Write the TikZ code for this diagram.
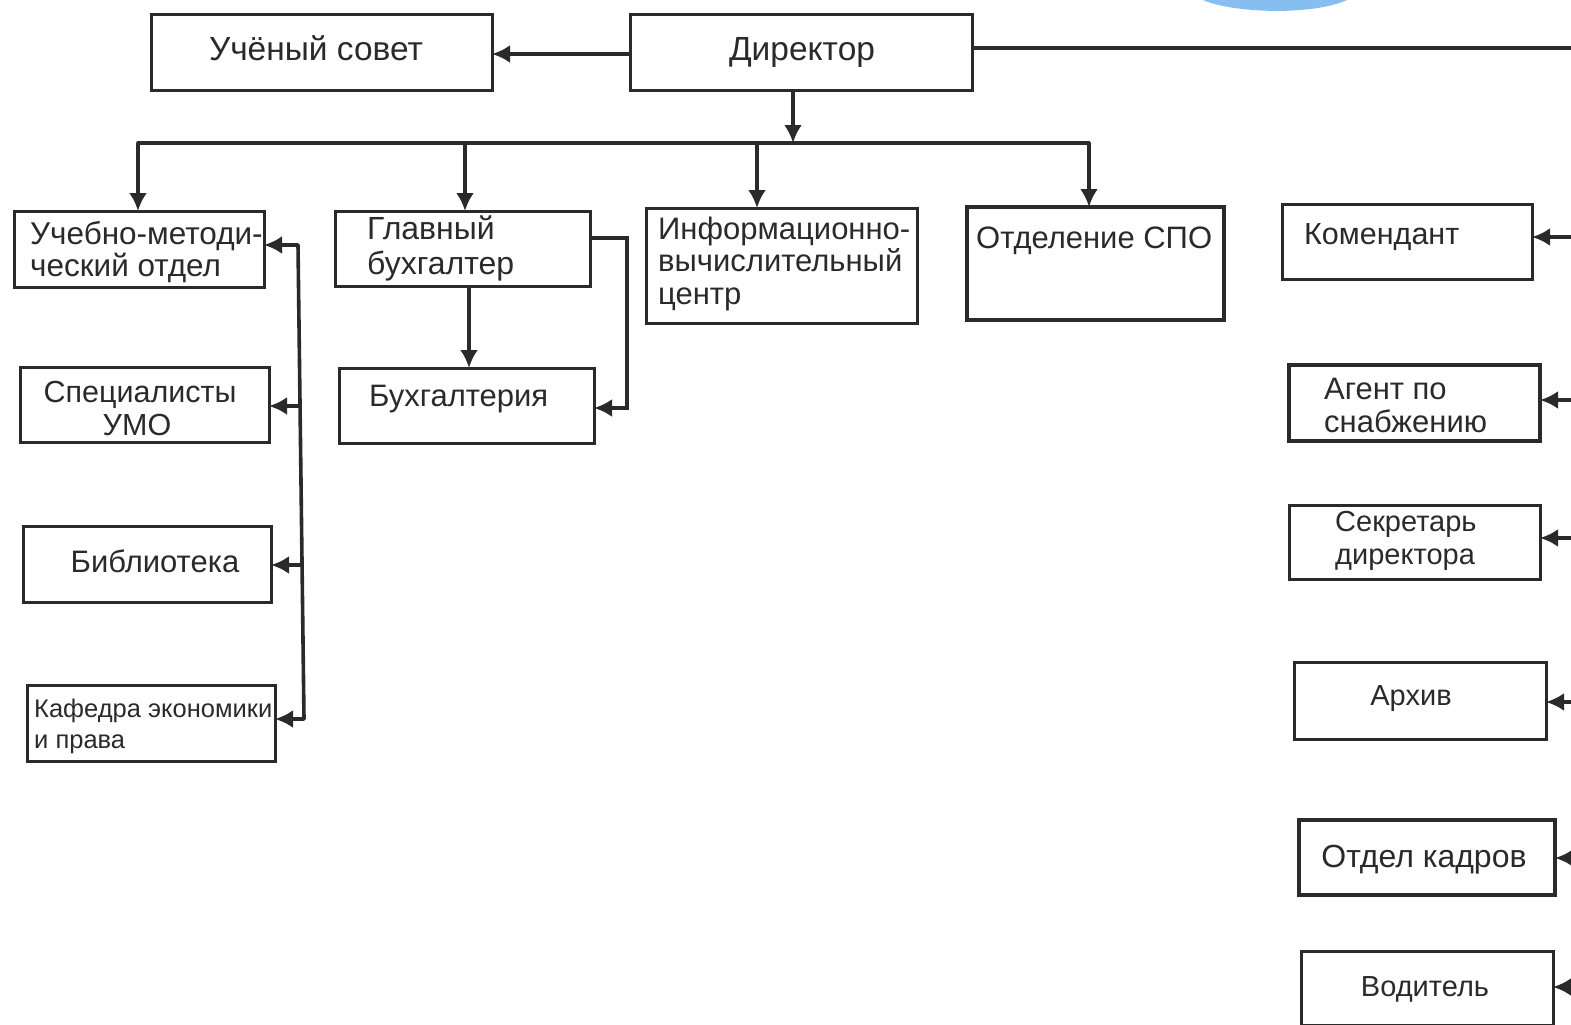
\documentclass[tikz,border=0pt]{standalone}
\usepackage{fontspec}
\setmainfont{Liberation Sans}
\usetikzlibrary{arrows.meta}
\definecolor{ink}{HTML}{2A2A2A}
\definecolor{stamp}{HTML}{86BFEF}
\tikzset{
  x=1pt,y=-1pt,
  bx/.style={draw=ink,line width=3pt,inner sep=0pt,outer sep=0pt,anchor=north west},
  heavy/.style={bx,line width=3.6pt},
  tx/.style={text=ink,inner sep=0pt,anchor=base,font=\fontsize{#1}{#1}\selectfont},
  lft/.style={tx=#1,anchor=base west},
  arr/.style={draw=ink,line width=3.6pt,-{Latex[length=18pt,width=18pt]}},
  ln/.style={draw=ink,line width=3.6pt}
}
\begin{document}
\begin{tikzpicture}
\useasboundingbox (0,0) rectangle (1571,1025);
\clip (0,0) rectangle (1571,1025);
\fill[stamp] (1203,0) .. controls (1232,13) and (1312,16) .. (1347,0) -- cycle;
\node[bx,minimum width=341pt,minimum height=75pt] (uc) at (151,15) {};
\node[bx,minimum width=342pt,minimum height=75pt] (dir) at (630,15) {};
\node[bx,minimum width=250pt,minimum height=76pt] (umo) at (14,211) {};
\node[bx,minimum width=255pt,minimum height=75pt] (gb) at (335,211) {};
\node[bx,minimum width=255pt,minimum height=75pt] (buh) at (339,368) {};
\node[bx,minimum width=271pt,minimum height=115pt] (ivc) at (646,208) {};
\node[heavy,minimum width=257pt,minimum height=113pt] (spo) at (967,207) {};
\node[bx,minimum width=250pt,minimum height=75pt] (kom) at (1282,204) {};
\node[heavy,minimum width=251pt,minimum height=76pt] (agn) at (1289,365) {};
\node[bx,minimum width=251pt,minimum height=74pt] (sec) at (1289,505) {};
\node[bx,minimum width=252pt,minimum height=77pt] (arh) at (1294,662) {};
\node[heavy,minimum width=256pt,minimum height=75pt] (kad) at (1299,820) {};
\node[bx,minimum width=252pt,minimum height=74pt] (vod) at (1301,951) {};
\node[bx,minimum width=249pt,minimum height=75pt] (spc) at (20,367) {};
\node[bx,minimum width=248pt,minimum height=76pt] (bib) at (23,526) {};
\node[bx,minimum width=248pt,minimum height=76pt] (kaf) at (27,685) {};
% texts (baselines)
\node[tx=33.5] (uct) at (316,60) {Учёный совет};
\node[tx=33.5] (dirt) at (802,60) {Директор};
\node[lft=31.5] (umo1) at (30,244) {Учебно-методи-};
\node[lft=31.5] (umo2) at (30,276) {ческий отдел};
\node[lft=32] (gb1) at (367,239) {Главный};
\node[lft=32] (gb2) at (367,274) {бухгалтер};
\node[lft=31] (buht) at (369,406) {Бухгалтерия};
\node[lft=31] (ivc1) at (658,239) {Информационно-};
\node[lft=31] (ivc2) at (658,271) {вычислительный};
\node[lft=31] (ivc3) at (658,304) {центр};
\node[lft=31] (spot) at (976,248) {Отделение СПО};
\node[lft=30.5] (komt) at (1304,244) {Комендант};
\node[lft=31] (agn1) at (1324,399) {Агент по};
\node[lft=31] (agn2) at (1324,432) {снабжению};
\node[lft=29] (sec1) at (1335,531) {Секретарь};
\node[lft=29] (sec2) at (1335,564) {директора};
\node[tx=29] (arht) at (1411,705) {Архив};
\node[tx=32] (kadt) at (1424,867) {Отдел кадров};
\node[tx=29] (vodt) at (1425,996) {Водитель};
\node[tx=30.5] (spc1) at (140,402) {Специалисты};
\node[tx=30.5] (spc2) at (137,435) {УМО};
\node[tx=31] (bibt) at (155,572) {Библиотека};
\node[lft=25.5] (kaf1) at (34,717) {Кафедра экономики};
\node[lft=25.5] (kaf2) at (34,748) {и права};
% connector points
\coordinate (busL) at (138,143);
\coordinate (busD) at (793,143);
\coordinate (busR) at (1089,143);
\coordinate (rail1) at (298,245);
\coordinate (rail2) at (304,719);
\coordinate (edge) at (1571,48);
% connectors
\draw[arr] (dir.west |- 0,54) -- (uc.east |- 0,54);
\draw[ln] (dir.east |- 0,48) -- (edge);
\draw[arr] (busD |- dir.south) -- (busD);
\draw[ln,line cap=round] (busL) -- (busR);
\draw[arr] (busL) -- (busL |- umo.north);
\draw[arr] (465,143) -- (465,211);
\draw[arr] (757,143) -- (757,208);
\draw[arr] (busR) -- (busR |- spo.north);
\draw[ln,line cap=round] (rail1) -- (rail2);
\draw[arr] (rail1) -- (umo.east |- rail1);
\draw[arr] (299.5,406) -- (spc.east |- 0,406);
\draw[arr] (302,565) -- (bib.east |- 0,565);
\draw[arr] (rail2) -- (kaf.east |- rail2);
\draw[arr] (469,211 |- gb.south) -- (469,211 |- buh.north);
\draw[arr] (gb.east |- 0,238) -- (627,238) -- (627,408) -- (buh.east |- 0,408);
\draw[arr] (1571,237) -- (kom.east |- 0,237);
\draw[arr] (1571,400) -- (agn.east |- 0,400);
\draw[arr] (1571,538) -- (sec.east |- 0,538);
\draw[arr] (1571,702) -- (arh.east |- 0,702);
\draw[arr] (1571,858) -- (kad.east |- 0,858);
\draw[arr] (1571,987) -- (vod.east |- 0,987);
\end{tikzpicture}
\end{document}
